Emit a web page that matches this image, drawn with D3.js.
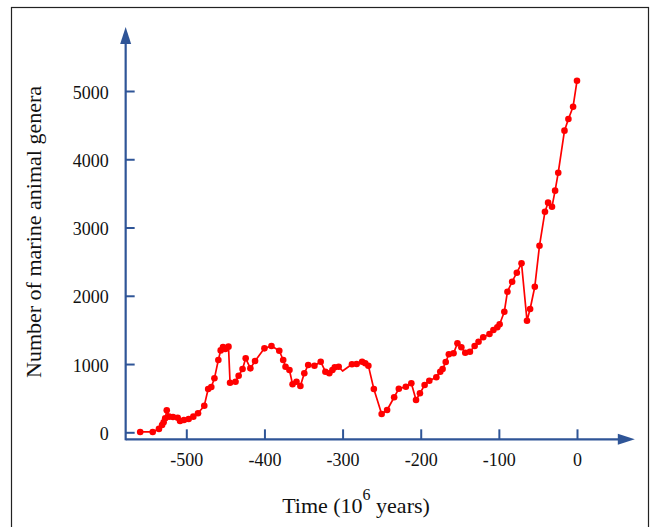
<!DOCTYPE html>
<html>
<head>
<meta charset="utf-8">
<script src="https://cdn.jsdelivr.net/npm/d3@7"></script>
<style>
	body { margin: 0; background: #fff; }
	text { font-family: "Liberation Serif", "Times New Roman", serif; fill: #111; }
</style>
</head>
<body>
<div id="chart-area"></div>
<script>
// Data (time in 10^6 years, number of genera)
let years = [-559, -543, -535, -531, -529, -527, -525, -522, -517, -511, -508, -503, -497, -491, -485,
	-477, -472, -468, -464, -459, -456, -453, -450, -446, -444, -437, -433, -428, -424, -418, -412,
	-400, -391, -381, -376, -373, -368, -364, -359, -354, -349, -344, -336, -328, -322, -317, -313,
	-310, -305, -300, -288, -282, -275, -271, -267, -260, -250, -243, -234, -228, -219, -212, -206,
	-201, -195, -189, -180, -175, -172, -168, -164, -158, -153, -148, -143, -137, -131, -126, -120,
	-112, -107, -102, -99, -93, -89, -83, -77, -71, -64, -60, -54, -48, -41, -37, -32, -28, -24,
	-16, -11, -5, 0];
let genera = [5, 5, 50, 107, 146, 205, 322, 229, 224, 214, 166, 180, 195, 229, 278,
	390, 634, 664, 791, 1059, 1200, 1250, 1220, 1255, 727, 741, 829, 927, 1084, 937, 1044,
	1230, 1264, 1195, 1059, 961, 913, 703, 741, 678, 864, 986, 976, 1034, 888, 864, 913,
	952, 961, 898, 996, 1001, 1034, 1011, 976, 634, 268, 327, 513, 639, 668, 718, 473,
	571, 693, 756, 806, 888, 927, 1030, 1143, 1157, 1304, 1245, 1166, 1181, 1264, 1327, 1392,
	1440, 1499, 1538, 1582, 1767, 2060, 2206, 2338, 2476, 1635, 1806, 2133, 2734, 3232, 3364, 3305, 3540, 3803,
	4419, 4590, 4770, 5150];
// vertices drawn without a dot
let unmarked = [-300];

let xTicks = [-500, -400, -300, -200, -100, 0];
let xTickLabels = ["-500", "-400", "-300", "-200", "-100", "0"];
let yTicks = [0, 1000, 2000, 3000, 4000, 5000];
let yTickLabels = ["0", "1000", "2000", "3000", "4000", "5000"];

let data = years.map((t, i) => ({year: t, value: genera[i]}));

let width = 656,
	height = 527;

let svg = d3.select("#chart-area").append("svg")
	.attr("width", width)
	.attr("height", height);

// Outer frame
svg.append("rect")
	.attr("x", 11.5)
	.attr("y", 7.5)
	.attr("width", 637)
	.attr("height", 540)
	.attr("fill", "none")
	.attr("stroke", "#222")
	.attr("stroke-width", 1.2);

// Scales
let x = d3.scaleLinear()
	.domain([-500, 0])
	.range([186.3, 577]);

let y = d3.scaleLinear()
	.domain([0, 5000])
	.range([432.3, 91]);

let axisColor = "#2f5597";
let xAxisY = y(-103),
	yAxisX = x(-577.6);

// x axis (ticks pointing up, labels below)
let xAxis = d3.axisBottom(x)
	.tickValues(xTicks)
	.tickFormat((d, i) => xTickLabels[i])
	.tickSizeInner(-10)
	.tickSizeOuter(0)
	.tickPadding(14);

let gx = svg.append("g")
	.attr("transform", "translate(0," + xAxisY + ")")
	.call(xAxis);
gx.select(".domain").remove();
gx.selectAll(".tick line").attr("stroke", axisColor).attr("stroke-width", 2);
gx.selectAll(".tick text")
	.attr("font-size", 18)
	.attr("font-family", "'Liberation Serif', 'Times New Roman', serif")
	.attr("fill", "#111");

// y axis (ticks pointing right, labels left)
let yAxis = d3.axisLeft(y)
	.tickValues(yTicks)
	.tickFormat((d, i) => yTickLabels[i])
	.tickSizeInner(-9)
	.tickSizeOuter(0)
	.tickPadding(17);

let gy = svg.append("g")
	.attr("transform", "translate(" + yAxisX + ",0)")
	.call(yAxis);
gy.select(".domain").remove();
gy.selectAll(".tick line").attr("stroke", axisColor).attr("stroke-width", 2);
gy.selectAll(".tick text")
	.attr("font-size", 18)
	.attr("dy", "0.4em")
	.attr("font-family", "'Liberation Serif', 'Times New Roman', serif")
	.attr("fill", "#111");

// Axis lines with arrow heads
let xEnd = x(74),
	yEnd = y(5937);

svg.append("line")
	.attr("x1", yAxisX).attr("y1", xAxisY)
	.attr("x2", xEnd - 12).attr("y2", xAxisY)
	.attr("stroke", axisColor)
	.attr("stroke-width", 2.2);
svg.append("path")
	.attr("d", "M" + xEnd + "," + xAxisY + "L" + (xEnd - 17) + "," + (xAxisY - 5.5) +
		"L" + (xEnd - 17) + "," + (xAxisY + 5.5) + "Z")
	.attr("fill", axisColor);

svg.append("line")
	.attr("x1", yAxisX).attr("y1", xAxisY + 1)
	.attr("x2", yAxisX).attr("y2", yEnd + 12)
	.attr("stroke", axisColor)
	.attr("stroke-width", 2.2);
svg.append("path")
	.attr("d", "M" + yAxisX + "," + yEnd + "L" + (yAxisX - 5.5) + "," + (yEnd + 17) +
		"L" + (yAxisX + 5.5) + "," + (yEnd + 17) + "Z")
	.attr("fill", axisColor);

// Axis titles
svg.append("text")
	.attr("transform", "translate(41,232) rotate(-90)")
	.attr("text-anchor", "middle")
	.attr("font-size", 22)
	.text("Number of marine animal genera");

let xTitle = svg.append("text")
	.attr("x", 356)
	.attr("y", 512.7)
	.attr("text-anchor", "middle")
	.attr("font-size", 22);
xTitle.append("tspan").text("Time (10");
xTitle.append("tspan").attr("dy", -13).attr("font-size", 16).text("6");
xTitle.append("tspan").attr("dy", 13).text("\u00a0years)");

// Data line and points
let line = d3.line()
	.x(d => x(d.year))
	.y(d => y(d.value));

svg.append("path")
	.datum(data)
	.attr("d", line)
	.attr("fill", "none")
	.attr("stroke", "#ff0000")
	.attr("stroke-width", 1.7)
	.attr("stroke-linejoin", "round");

svg.selectAll("circle.pt")
	.data(data.filter(d => !unmarked.includes(d.year)))
	.enter()
	.append("circle")
	.attr("class", "pt")
	.attr("cx", d => x(d.year))
	.attr("cy", d => y(d.value))
	.attr("r", 3.3)
	.attr("fill", "#ff0000");
</script>
</body>
</html>
